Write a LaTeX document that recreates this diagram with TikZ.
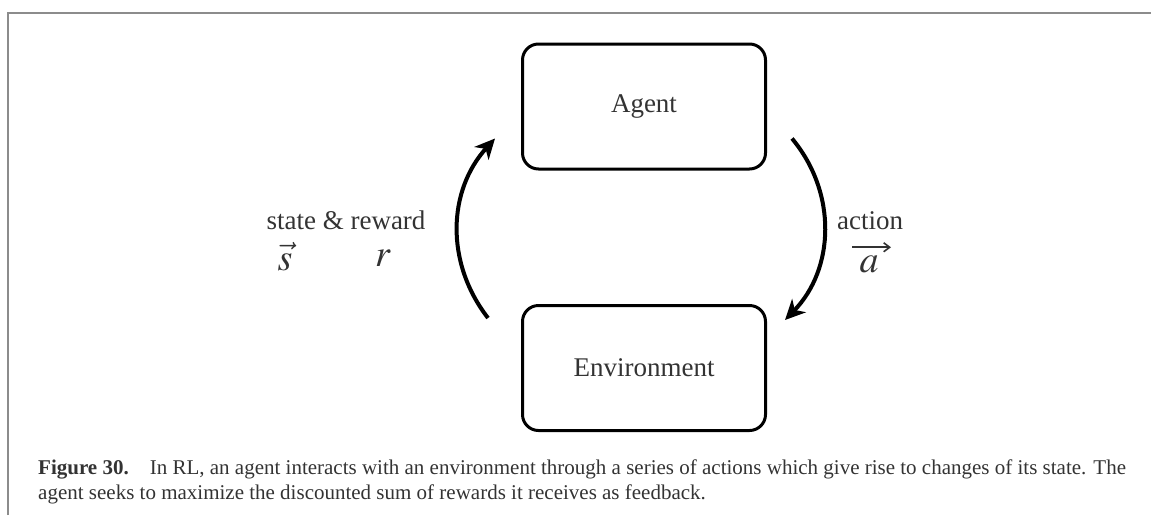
\documentclass[tikz,border=0pt]{standalone}
\usepackage{mathptmx}
\usepackage{fontspec}
\setmainfont{Liberation Serif}
\usepackage{xcolor}
\usetikzlibrary{positioning,arrows.meta}
\definecolor{framegray}{gray}{0.55}
\definecolor{textgray}{gray}{0.2}
\tikzset{
	block/.style={draw, line width=3pt, rounded corners=16pt, minimum width=243pt, minimum height=125pt, text=textgray, font=\fontsize{27}{32}\selectfont},
	lbl/.style={text=textgray, inner sep=0pt, font=\fontsize{27}{32}\selectfont},
	sym/.style={text=textgray, inner sep=0pt, font=\fontsize{38}{44}\selectfont},
	caption/.style={text=textgray, inner sep=0pt, font=\fontsize{21}{25}\selectfont, anchor=base west},
	flow/.style={line width=4pt, -{Stealth[length=20pt, width=19pt, inset=6pt]}},
	vecarrow/.style={textgray, line width=1.6pt, -{Straight Barb[length=6pt, width=9pt]}}
}

\begin{document}
\begin{tikzpicture}[x=1pt, y=-1pt]
	\useasboundingbox (0,0) rectangle (1151,515);
	% frame
	\draw[framegray, line width=1.5pt] (8,515) -- (8,13) -- (1151,13);
	% boxes
	\node[block] (agent) at (644,106.5) {Agent};
	\node[block] (env) at (644,368) {Environment};
	% loop
	\draw[flow] ([shift={(-33,14)}]env.north west) to[bend left=40] ([shift={(-26,-32)}]agent.south west);
	\draw[flow] ([shift={(25,-32)}]agent.south east) to[bend left=42] ([shift={(18,16)}]env.north east);
	% labels
	\node[lbl, anchor=base] (state) at (346,229) {state \& reward};
	\node[sym, anchor=base] (svec) at (285,270) {$\vec{s}$};
	\node[sym, anchor=base] (rsym) at (383,266) {$r$};
	\node[lbl, anchor=base] (action) at (870,229) {action};
	\node[sym, anchor=base] (avec) at (869,272) {$a$};
	\draw[vecarrow] ([shift={(-17,-8)}]avec.north) -- ([shift={(22,-8)}]avec.north);
	% caption
	\node[caption] (cap1) at (38,474) {\textbf{Figure 30.}\quad In RL, an agent interacts with an environment through a series of actions which give rise to changes of its state. The};
	\node[caption] (cap2) at (38,499) {agent seeks to maximize the discounted sum of rewards it receives as feedback.};
\end{tikzpicture}
\end{document}
